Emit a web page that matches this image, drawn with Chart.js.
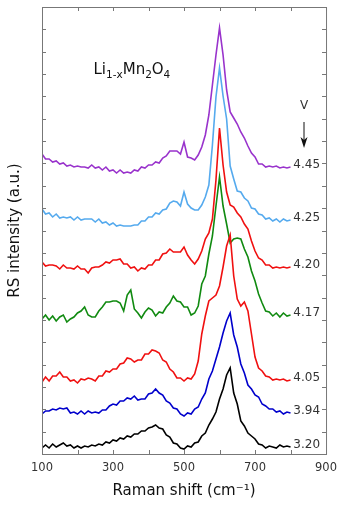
<!DOCTYPE html>
<html>
<head>
<meta charset="utf-8">
<script src="https://cdn.jsdelivr.net/npm/chart.js@4.4.1/dist/chart.umd.min.js"></script>
<style>
    html, body { margin: 0; padding: 0; background: #fff; }
    #wrap { width: 344px; height: 508px; }
</style>
</head>
<body>
<div id="wrap"><canvas id="ramanChart" width="344" height="508"></canvas></div>
<script>
// Raman shift, cm-1
const shifts = [
    100, 110, 120, 130, 140, 150, 160, 170, 180, 190,
    200, 210, 220, 230, 240, 250, 260, 270, 280, 290,
    300, 310, 320, 330, 340, 350, 360, 370, 380, 390,
    400, 410, 420, 430, 440, 450, 460, 470, 480, 490,
    500, 510, 520, 530, 540, 550, 560, 570, 580, 590,
    600, 610, 620, 630, 640, 650, 660, 670, 680, 690,
    700, 710, 720, 730, 740, 750, 760, 770, 780, 790,
    800
];

// RS intensity (a.u., curves offset vertically)
const v320 = [
    6, 9, 6, 10, 7, 9, 11, 8, 9, 6,
    8, 6, 8, 7, 9, 8, 10, 9, 12, 11,
    14, 13, 16, 15, 18, 17, 20, 20, 23, 23,
    26, 27, 29, 26, 25, 19, 17, 11, 10, 6,
    5, 8, 7, 11, 12, 18, 21, 29, 35, 42,
    55, 65, 79, 86, 61, 50, 33, 28, 21, 18,
    15, 10, 9, 6, 8, 7, 6, 9, 7, 8,
    7
];
const v394 = [
    40, 43, 43, 45, 44, 46, 45, 46, 41, 42,
    40, 43, 40, 43, 41, 42, 41, 44, 44, 48,
    50, 49, 53, 53, 56, 55, 58, 54, 55, 55,
    60, 61, 65, 61, 59, 53, 51, 46, 45, 40,
    38, 41, 40, 45, 47, 55, 61, 75, 83, 95,
    107, 121, 133, 141, 119, 107, 90, 81, 69, 65,
    59, 57, 50, 48, 45, 45, 42, 43, 40, 42,
    41
];
const v405 = [
    72, 77, 73, 78, 78, 82, 77, 77, 73, 74,
    71, 75, 74, 76, 75, 73, 78, 78, 83, 82,
    85, 85, 90, 91, 96, 95, 92, 94, 94, 100,
    100, 104, 103, 101, 94, 92, 85, 82, 76, 76,
    73, 76, 75, 80, 93, 120, 138, 153, 156, 159,
    168, 187, 208, 219, 178, 155, 148, 152, 143, 120,
    97, 86, 83, 78, 77, 74, 75, 74, 75, 73,
    74
];
const v417 = [
    135, 139, 134, 138, 133, 137, 139, 132, 135, 137,
    141, 143, 147, 139, 137, 137, 143, 147, 152, 152,
    153, 153, 151, 143, 159, 164, 145, 141, 136, 142,
    146, 144, 138, 142, 141, 147, 151, 158, 153, 152,
    147, 147, 139, 141, 148, 170, 178, 200, 218, 248,
    277, 248, 230, 211, 215, 216, 215, 205, 197, 183,
    173, 160, 151, 143, 142, 138, 141, 137, 141, 138,
    139
];
const v420 = [
    192, 188, 189, 189, 188, 185, 189, 186, 186, 185,
    188, 185, 185, 181, 186, 187, 187, 189, 192, 191,
    194, 194, 195, 190, 190, 186, 187, 183, 186, 185,
    189, 189, 194, 194, 200, 201, 205, 202, 202, 202,
    207, 199, 194, 190, 195, 203, 215, 221, 235, 274,
    326, 289, 262, 249, 247, 241, 237, 230, 225, 213,
    203, 196, 194, 189, 189, 186, 187, 186, 187, 186,
    187
];
const v425 = [
    245, 240, 241, 237, 240, 236, 237, 236, 237, 234,
    237, 234, 235, 235, 235, 232, 235, 231, 232, 229,
    231, 228, 229, 228, 228, 228, 229, 229, 233, 233,
    237, 237, 241, 240, 244, 245, 251, 253, 252, 248,
    262, 250, 246, 244, 244, 249, 257, 269, 309, 357,
    386, 358, 335, 288, 275, 263, 262, 256, 253, 246,
    245, 240, 239, 235, 236, 233, 235, 232, 235, 233,
    234
];
const v445 = [
    300, 295, 295, 292, 293, 290, 291, 288, 289, 287,
    288, 287, 287, 286, 289, 286, 287, 284, 287, 283,
    284, 281, 284, 281, 282, 281, 284, 283, 287, 286,
    289, 289, 292, 291, 296, 298, 303, 303, 303, 300,
    312, 297, 296, 294, 299, 307, 319, 339, 369, 399,
    426, 399, 364, 342, 336, 330, 322, 316, 308, 301,
    297, 290, 290, 287, 288, 287, 288, 286, 287, 286,
    287
];

const voltages = ['3.20', '3.94', '4.05', '4.17', '4.20', '4.25', '4.45'];
const curves = [v320, v394, v405, v417, v420, v425, v445];
const colors = ['#000000', '#0000cc', '#f01010', '#108a10', '#f01010', '#55aaee', '#9933cc'];

const FONT = '"DejaVu Sans", "Liberation Sans", Arial, sans-serif';

// frame, inward ticks and the text notes
const annotate = {
    id: 'annotate',
    afterDatasetsDraw(chart) {
        const ctx = chart.ctx;
        const a = chart.chartArea;
        const x = chart.scales.x;
        const y = chart.scales.y;
        ctx.save();
        ctx.strokeStyle = '#777';
        ctx.lineWidth = 1;
        ctx.strokeRect(a.left + 0.5, a.top + 0.5, a.right - a.left, a.bottom - a.top);
        ctx.beginPath();
        x.ticks.forEach(t => {
            const px = Math.round(x.getPixelForValue(t.value)) + 0.5;
            ctx.moveTo(px, a.bottom); ctx.lineTo(px, a.bottom - 4);
            ctx.moveTo(px, a.top); ctx.lineTo(px, a.top + 4);
        });
        y.ticks.forEach(t => {
            const py = Math.round(y.getPixelForValue(t.value)) + 0.5;
            ctx.moveTo(a.left, py); ctx.lineTo(a.left + 4, py);
            ctx.moveTo(a.right, py); ctx.lineTo(a.right - 4, py);
        });
        ctx.stroke();

        // voltage labels at the end of each curve
        ctx.fillStyle = '#333';
        ctx.font = '12px ' + FONT;
        ctx.textAlign = 'left';
        ctx.textBaseline = 'middle';
        curves.forEach((c, i) => {
            ctx.fillText(voltages[i], x.getPixelForValue(808), y.getPixelForValue(c[c.length - 1] + 2));
        });

        // "V" with arrow
        const ax = x.getPixelForValue(838);
        ctx.textAlign = 'center';
        ctx.fillText('V', ax, y.getPixelForValue(348));
        ctx.strokeStyle = '#111';
        ctx.beginPath();
        ctx.moveTo(ax, y.getPixelForValue(332));
        ctx.lineTo(ax, y.getPixelForValue(312));
        ctx.stroke();
        const tip = y.getPixelForValue(306);
        ctx.fillStyle = '#111';
        ctx.beginPath();
        ctx.moveTo(ax, tip);
        ctx.lineTo(ax - 3.5, tip - 11);
        ctx.lineTo(ax, tip - 8);
        ctx.lineTo(ax + 3.5, tip - 11);
        ctx.closePath();
        ctx.fill();

        // Li1-xMn2O4
        const parts = [['Li', false], ['1-x', true], ['Mn', false], ['2', true], ['O', false], ['4', true]];
        let cx = x.getPixelForValue(245);
        const base = y.getPixelForValue(380);
        ctx.fillStyle = '#111';
        ctx.textAlign = 'left';
        ctx.textBaseline = 'alphabetic';
        parts.forEach(([txt, sub]) => {
            ctx.font = (sub ? '10.5px ' : '15px ') + FONT;
            ctx.fillText(txt, cx, sub ? base + 4 : base);
            cx += ctx.measureText(txt).width;
        });
        ctx.restore();
    }
};

const ctx = document.getElementById('ramanChart').getContext('2d');
const ramanChart = new Chart(ctx, {
    type: 'line',
    data: {
        datasets: curves.map((c, i) => ({
            label: voltages[i],
            data: shifts.map((s, j) => ({ x: s, y: c[j] })),
            borderColor: colors[i],
            borderWidth: 1.6,
            pointRadius: 0,
            tension: 0,
            fill: false
        }))
    },
    options: {
        responsive: false,
        animation: false,
        layout: { padding: { top: 7, right: 16, left: 0, bottom: 0 } },
        plugins: {
            legend: { display: false },
            tooltip: { enabled: false }
        },
        scales: {
            x: {
                type: 'linear',
                min: 100,
                max: 900,
                afterFit: function(scale) { scale.height = 54; },
                grid: { display: false, drawTicks: false },
                border: { display: false },
                ticks: {
                    stepSize: 100,
                    padding: 7,
                    color: '#333',
                    font: { family: FONT, size: 11.5 },
                    maxRotation: 0,
                    autoSkip: false,
                    callback: function(value) {
                        return (value - 100) % 200 === 0 ? String(value) : '';
                    }
                },
                title: {
                    display: true,
                    text: 'Raman shift (cm⁻¹)',
                    color: '#111',
                    font: { family: FONT, size: 15 },
                    padding: { top: 0, bottom: 8 }
                }
            },
            y: {
                min: 0,
                max: 447,
                afterFit: function(scale) { scale.width = 42; },
                grid: { display: false, drawTicks: false },
                border: { display: false },
                ticks: { display: false, count: 21 },
                title: {
                    display: true,
                    text: 'RS intensity (a.u.)',
                    color: '#111',
                    font: { family: FONT, size: 15 },
                    padding: { top: 6, bottom: 0 }
                }
            }
        }
    },
    plugins: [annotate]
});
</script>
</body>
</html>
